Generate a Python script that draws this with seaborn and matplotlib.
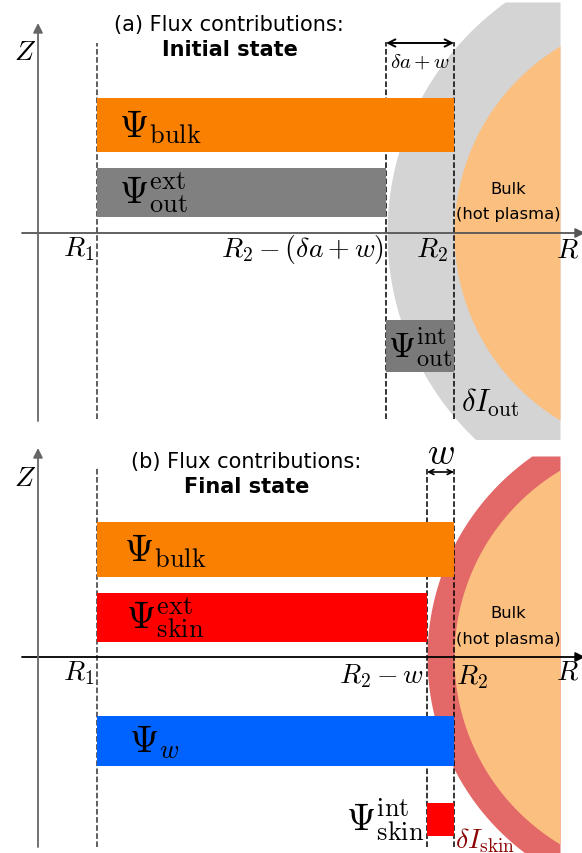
import numpy as np
import matplotlib
matplotlib.use("Agg")
import matplotlib.pyplot as plt
import seaborn as sns

sns.set_style("white")
plt.rcParams["font.family"] = ["DejaVu Sans"]
plt.rcParams["mathtext.fontset"] = "cm"
plt.rcParams["text.color"] = "black"

# geometry (arbitrary units, R along x, Z up from midplane)
R1 = 97
R2 = 454
DA_W = 68        # delta a + w
W = 27           # skin width
R_EDGE = 560     # right edge of drawn plasma
R_CENTER = 672   # plasma centre
R_BULK = 218     # bulk radius
R_OUT = 285      # radius incl. outer layer (a)
R_SKIN = 245     # radius incl. skin layer (b)

# panel (a) bars: initial state
a_labels = [r"$\Psi_{\rm bulk}$", r"$\Psi^{\rm ext}_{\rm out}$", r"$\Psi^{\rm int}_{\rm out}$"]
a_left = [R1, R1, R2 - DA_W]
a_right = [R2, R2 - DA_W, R2]
a_zlo = [81, 16, -139]
a_zhi = [135, 65, -87]
a_colors = ["#f98000", "#808080", "#7a7a7a"]

# panel (b) bars: final state
b_labels = [r"$\Psi_{\rm bulk}$", r"$\Psi^{\rm ext}_{\rm skin}$", r"$\Psi_{w}$", r"$\Psi^{\rm int}_{\rm skin}$"]
b_left = [R1, R1, R1, R2 - W]
b_right = [R2, R2 - W, R2, R2]
b_zlo = [80, 15, -109, -179]
b_zhi = [135, 64, -59, -146]
b_colors = ["#f98000", "#ff0000", "#0062ff", "#ff0000"]

fig = plt.figure(figsize=(5.82, 8.54), dpi=100)
ax_a = fig.add_axes([0, 414 / 854, 1, 440 / 854])
ax_b = fig.add_axes([0, 0, 1, 414 / 854])
ax_a.set_xlim(0, 582)
ax_a.set_ylim(-206, 234)
ax_b.set_xlim(0, 582)
ax_b.set_ylim(-196, 218)
for ax in (ax_a, ax_b):
    ax.axis("off")


def plasma(ax, radius, zmin, zmax, color):
    z = np.linspace(zmin, zmax, 400)
    x = R_CENTER - np.sqrt(np.clip(radius ** 2 - z ** 2, 0, None))
    x = np.minimum(x, R_EDGE)
    ax.fill_betweenx(z, x, R_EDGE, color=color, lw=0, zorder=1)


def bars(ax, left, right, zlo, zhi, colors):
    left = np.array(left)
    right = np.array(right)
    zlo = np.array(zlo)
    zhi = np.array(zhi)
    ax.barh((zlo + zhi) / 2, right - left, height=zhi - zlo, left=left,
            color=colors, lw=0, zorder=3)


def axes_arrows(ax, ztop, zbot, color):
    ax.annotate("", xy=(585, 0), xytext=(22, 0), annotation_clip=False,
                arrowprops=dict(arrowstyle="-|>", color=color, lw=1.3,
                                mutation_scale=14, shrinkA=0, shrinkB=0), zorder=5)
    ax.annotate("", xy=(38, ztop), xytext=(38, zbot), annotation_clip=False,
                arrowprops=dict(arrowstyle="-|>", color="#666666", lw=1.3,
                                mutation_scale=14, shrinkA=0, shrinkB=0), zorder=5)


mt = dict(fontsize=20, zorder=6)
big = 27

# ---- panel (a)
plasma(ax_a, R_OUT, -208, 231, "#d4d4d4")
plasma(ax_a, R_BULK, -190, 190, "#fbbf80")
bars(ax_a, a_left, a_right, a_zlo, a_zhi, a_colors)
ax_a.plot([R1, R1], [-186, 190], ls="--", color="#333333", lw=1.1, zorder=2)
for xv in (R2 - DA_W, R2):
    ax_a.plot([xv, xv], [-186, 191], ls="--", color="black", lw=1.1, zorder=2)
axes_arrows(ax_a, 210, -188, "#555555")
ax_a.annotate("", xy=(R2 - DA_W, 190), xytext=(R2, 190),
              arrowprops=dict(arrowstyle="<->", color="black", lw=1.4,
                              mutation_scale=13, shrinkA=0, shrinkB=0), zorder=6)
ax_a.text((2 * R2 - DA_W) / 2, 172, r"$\delta a + w$", ha="center", va="center", fontsize=15)
ax_a.text(229, 209, "(a) Flux contributions:", ha="center", va="center", fontsize=15)
ax_a.text(230, 184, "Initial state", ha="center", va="center", fontsize=15, fontweight="bold")
ax_a.text(25, 182, r"$Z$", ha="center", va="center", **mt)
ax_a.text(119, 107, a_labels[0], ha="left", va="center", fontsize=big, zorder=6)
ax_a.text(119, 41, a_labels[1], ha="left", va="center", fontsize=big, zorder=6)
ax_a.text((2 * R2 - DA_W) / 2, -113, a_labels[2], ha="center", va="center", fontsize=25, zorder=6)
ax_a.text(94, -15, r"$R_1$", ha="right", va="center", **mt)
ax_a.text(384, -16, r"$R_2-(\delta a+w)$", ha="right", va="center", **mt)
ax_a.text(432, -16, r"$R_2$", ha="center", va="center", **mt)
ax_a.text(567, -15, r"$R$", ha="center", va="center", **mt)
ax_a.text(508, 44, "Bulk", ha="center", va="center", fontsize=11.8, zorder=6)
ax_a.text(508, 19, "(hot plasma)", ha="center", va="center", fontsize=11.8, zorder=6)
ax_a.text(461, -169, r"$\delta I_{\rm out}$", ha="left", va="center", fontsize=22, zorder=6)

# ---- panel (b)
plasma(ax_b, R_SKIN, -200, 201, "#e36868")
plasma(ax_b, R_BULK, -188, 188, "#fbbf80")
bars(ax_b, b_left, b_right, b_zlo, b_zhi, b_colors)
ax_b.plot([R1, R1], [-190, 190], ls="--", color="#333333", lw=1.1, zorder=2)
for xv in (R2 - W, R2):
    ax_b.plot([xv, xv], [-190, 188], ls="--", color="black", lw=1.1, zorder=2)
axes_arrows(ax_b, 209, -190, "black")
ax_b.annotate("", xy=(R2 - W, 185), xytext=(R2, 185),
              arrowprops=dict(arrowstyle="<->", color="black", lw=1.2,
                              mutation_scale=9, shrinkA=0, shrinkB=0), zorder=6)
ax_b.text((2 * R2 - W) / 2, 204, r"$w$", ha="center", va="center", fontsize=27)
ax_b.text(246, 196, "(b) Flux contributions:", ha="center", va="center", fontsize=15)
ax_b.text(247, 171, "Final state", ha="center", va="center", fontsize=15, fontweight="bold")
ax_b.text(25, 180, r"$Z$", ha="center", va="center", **mt)
ax_b.text(124, 107, b_labels[0], ha="left", va="center", fontsize=big, zorder=6)
ax_b.text(126, 40, b_labels[1], ha="left", va="center", fontsize=big, zorder=6)
ax_b.text(129, -84, b_labels[2], ha="left", va="center", fontsize=big, zorder=6)
ax_b.text(424, -162, b_labels[3], ha="right", va="center", fontsize=big, zorder=6)
ax_b.text(94, -15, r"$R_1$", ha="right", va="center", **mt)
ax_b.text(424, -18, r"$R_2-w$", ha="right", va="center", **mt)
ax_b.text(456, -19, r"$R_2$", ha="left", va="center", **mt)
ax_b.text(567, -14, r"$R$", ha="center", va="center", **mt)
ax_b.text(508, 44, "Bulk", ha="center", va="center", fontsize=11.8, zorder=6)
ax_b.text(508, 18, "(hot plasma)", ha="center", va="center", fontsize=11.8, zorder=6)
ax_b.text(455, -183, r"$\delta I_{\rm skin}$", ha="left", va="center", fontsize=20,
          color="#8b0000", zorder=6)

fig.savefig("out.png", dpi=100)
